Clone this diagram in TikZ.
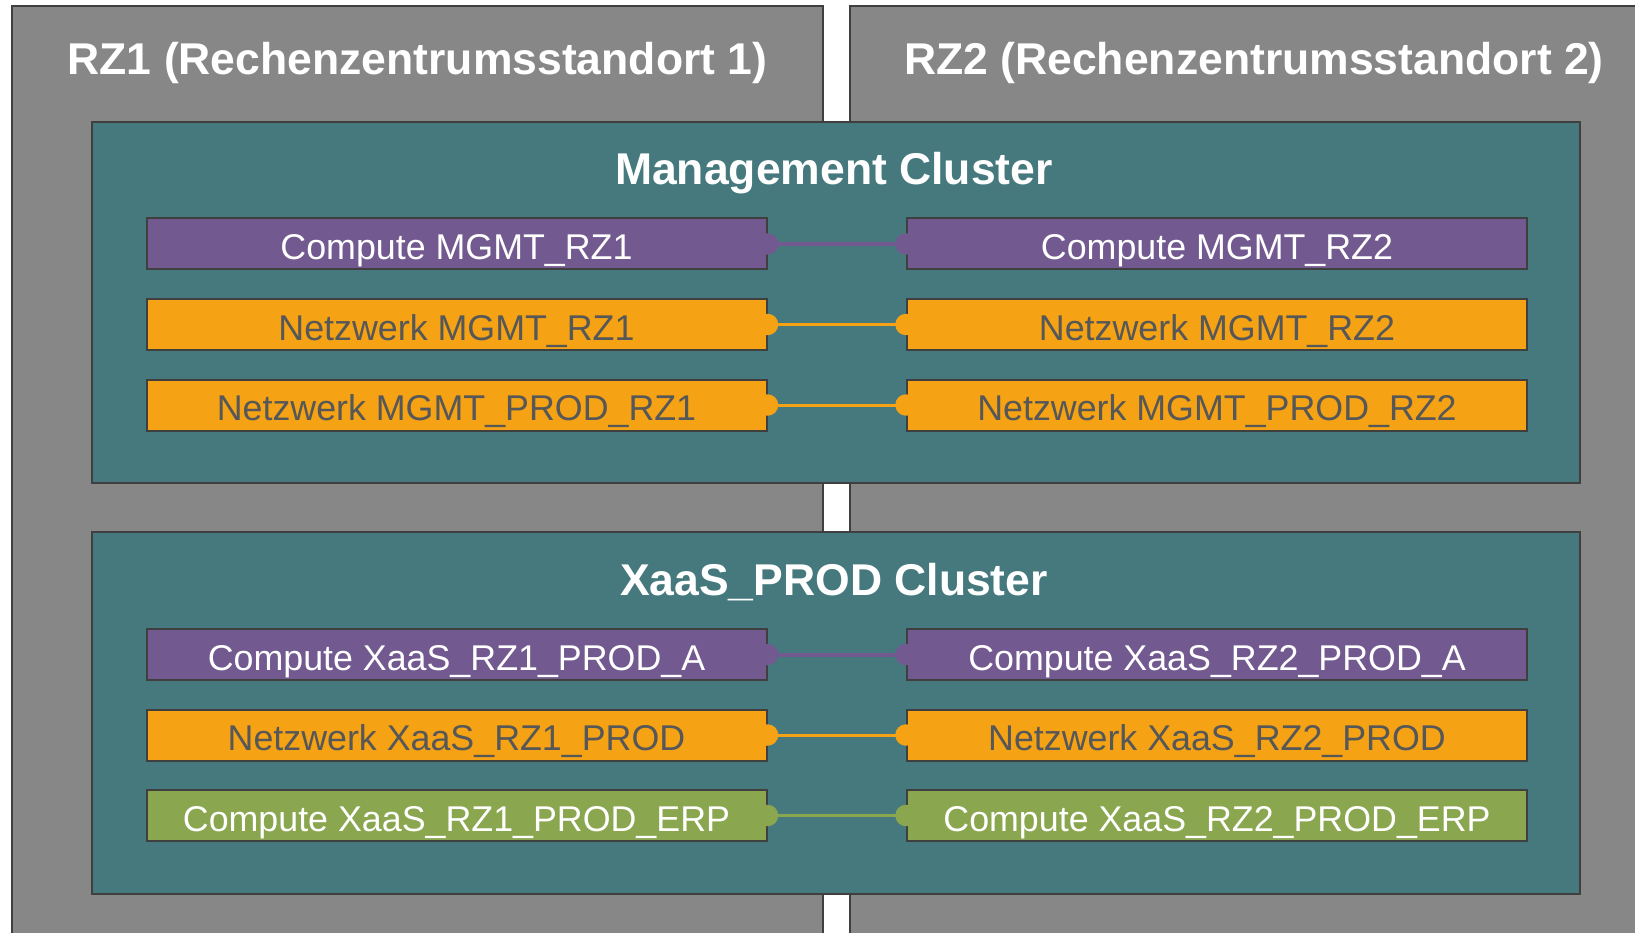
\documentclass[tikz,border=0pt]{standalone}
\usepackage{fontspec}
\setmainfont{Liberation Sans}
\definecolor{panelgray}{HTML}{878787}
\definecolor{edgecol}{HTML}{3F3F3F}
\definecolor{tealc}{HTML}{45797D}
\definecolor{purc}{HTML}{72598F}
\definecolor{orac}{HTML}{F5A214}
\definecolor{grnc}{HTML}{8AA64F}
\definecolor{darktext}{HTML}{555758}
\newcommand\boxfont{\fontsize{35.8}{40}\selectfont}
\newcommand\headfont{\fontsize{44.5}{50}\selectfont\bfseries}
\begin{document}
\begin{tikzpicture}[x=1pt,y=-1pt,
  panel/.style={fill=panelgray, draw=edgecol, line width=2pt},
  cluster/.style={fill=tealc, draw=edgecol, line width=2pt},
  head/.style={anchor=base, text=white, font=\headfont, inner sep=0pt},
  box/.style={draw=edgecol, line width=2pt, minimum width=620pt, minimum height=51pt,
              inner sep=0pt, text height=31pt, text depth=0pt, font=\boxfont},
  pbox/.style={box, fill=purc, text=white},
  obox/.style={box, fill=orac, text=darktext},
  gbox/.style={box, fill=grnc, text=white},
  dot/.style={circle, minimum size=21.5pt, inner sep=0pt, draw=none}
]
\useasboundingbox (0,0) rectangle (1635,933);
\clip (0,0) rectangle (1635,933);
\fill[white] (0,0) rectangle (1635,933);
% data centre panels
\draw[panel] (12,6) rectangle (823,960);
\draw[panel] (850,6) rectangle (1660,960);
\node[head] (rz1) at (417.5,75) {RZ1 (Rechenzentrumsstandort 1)};
\node[head] (rz2) at (1254,75) {RZ2 (Rechenzentrumsstandort 2)};
% clusters
\draw[cluster] (92,122) rectangle (1580,483);
\draw[cluster] (92,532) rectangle (1580,894);
\node[head] (mgmt) at (834,185) {Management Cluster};
\node[head] (xaas) at (834,595) {XaaS\_PROD Cluster};
% boxes
\node[pbox] (a1) at (456.5,244) {Compute MGMT\_RZ1};
\node[pbox] (b1) at (1217,244) {Compute MGMT\_RZ2};
\node[obox] (a2) at (456.5,324.5) {Netzwerk MGMT\_RZ1};
\node[obox] (b2) at (1217,324.5) {Netzwerk MGMT\_RZ2};
\node[obox] (a3) at (456.5,405) {Netzwerk MGMT\_PROD\_RZ1};
\node[obox] (b3) at (1217,405) {Netzwerk MGMT\_PROD\_RZ2};
\node[pbox] (a4) at (456.5,654.5) {Compute XaaS\_RZ1\_PROD\_A};
\node[pbox] (b4) at (1217,654.5) {Compute XaaS\_RZ2\_PROD\_A};
\node[obox] (a5) at (456.5,735) {Netzwerk XaaS\_RZ1\_PROD};
\node[obox] (b5) at (1217,735) {Netzwerk XaaS\_RZ2\_PROD};
\node[gbox] (a6) at (456.5,815.5) {Compute XaaS\_RZ1\_PROD\_ERP};
\node[gbox] (b6) at (1217,815.5) {Compute XaaS\_RZ2\_PROD\_ERP};
% connectors
\foreach \i/\c/\w in {1/purc/4, 2/orac/3, 3/orac/3, 4/purc/4, 5/orac/3, 6/grnc/3}{
  \draw[\c, line width=\w pt] (a\i.east) -- (b\i.west);
  \node[dot, fill=\c] (da\i) at (a\i.east) {};
  \node[dot, fill=\c] (db\i) at (b\i.west) {};
}
\end{tikzpicture}
\end{document}
